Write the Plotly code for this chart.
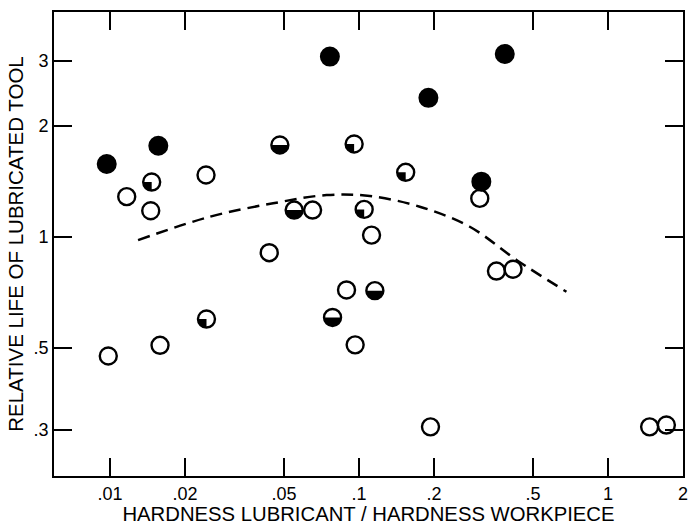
import plotly.graph_objects as go

# ---- data ----
x_ticks = [0.01, 0.02, 0.05, 0.1, 0.2, 0.5, 1, 2]
x_tick_text = [".01", ".02", ".05", ".1", ".2", ".5", "1", "2"]
y_ticks = [0.3, 0.5, 1, 2, 3]
y_tick_text = [".3", ".5", "1", "2", "3"]

filled_x = [0.0764, 0.385, 0.190, 0.01563, 0.00970, 0.310]
filled_y = [3.08, 3.13, 2.38, 1.765, 1.575, 1.41]

half_x = [0.0481, 0.0549, 0.0783, 0.1158]
half_y = [1.773, 1.181, 0.604, 0.714]

quarter_x = [0.0956, 0.01470, 0.1049, 0.0244, 0.154]
quarter_y = [1.784, 1.407, 1.186, 0.598, 1.495]

open_x = [0.0243, 0.01167, 0.01457, 0.0651, 0.1123, 0.0436, 0.00984, 0.01588,
          0.0891, 0.0965, 0.3055, 0.3565, 0.4156, 0.1937, 1.470, 1.716]
open_y = [1.47, 1.284, 1.176, 1.181, 1.01, 0.905, 0.4747, 0.5075,
          0.717, 0.509, 1.27, 0.807, 0.816, 0.305, 0.305, 0.3085]

curve_x = [0.01296, 0.0252, 0.0452, 0.0741, 0.1105, 0.1754, 0.2786, 0.4289, 0.681]
curve_y = [0.979, 1.133, 1.232, 1.297, 1.289, 1.206, 1.064, 0.865, 0.709]

FONT = "Liberation Sans"
R = 8.5
K = 0.5523 * R

fig = go.Figure()
fig.add_trace(go.Scatter(x=curve_x, y=curve_y, mode="lines",
                         line=dict(color="black", width=2.5, dash="12px,7px", shape="spline"),
                         showlegend=False, hoverinfo="skip"))

marker_open = dict(symbol="circle-open", size=17, color="black", line=dict(width=2.4, color="black"))
for xs, ys in [(open_x, open_y), (half_x, half_y), (quarter_x, quarter_y)]:
    fig.add_trace(go.Scatter(x=xs, y=ys, mode="markers", marker=marker_open, showlegend=False))

fig.add_trace(go.Scatter(x=filled_x, y=filled_y, mode="markers",
                         marker=dict(symbol="circle", size=18, color="black",
                                     line=dict(width=2, color="black")),
                         showlegend=False))

half_path = f"M {-R},0 C {-R},{-K} {-K},{-R} 0,{-R} C {K},{-R} {R},{-K} {R},0 Z"
quarter_path = f"M 0,0 L {-R},0 C {-R},{-K} {-K},{-R} 0,{-R} Z"

shapes = []
for xv, yv in zip(half_x, half_y):
    shapes.append(dict(type="path", xref="x", yref="y", xsizemode="pixel", ysizemode="pixel",
                       xanchor=xv, yanchor=yv, path=half_path, fillcolor="black",
                       line=dict(width=0), layer="above"))
for xv, yv in zip(quarter_x, quarter_y):
    shapes.append(dict(type="path", xref="x", yref="y", xsizemode="pixel", ysizemode="pixel",
                       xanchor=xv, yanchor=yv, path=quarter_path, fillcolor="black",
                       line=dict(width=0), layer="above"))

axis_common = dict(showline=True, linecolor="black", linewidth=2, mirror="ticks",
                   ticks="inside", ticklen=18, tickwidth=2, tickcolor="black",
                   showgrid=False, zeroline=False,
                   tickfont=dict(family=FONT, size=18, color="black"))

fig.update_layout(
    width=688, height=525,
    margin=dict(l=54, r=5, t=12, b=49, autoexpand=False),
    paper_bgcolor="white", plot_bgcolor="white",
    shapes=shapes,
    xaxis=dict(type="log", range=[-2.225, 0.3013], tickvals=x_ticks, ticktext=x_tick_text,
               title=dict(text="HARDNESS LUBRICANT / HARDNESS WORKPIECE",
                          font=dict(family=FONT, size=20.3, color="black"), standoff=0),
               **axis_common),
    yaxis=dict(type="log", range=[-0.649, 0.6094], tickvals=y_ticks, ticktext=y_tick_text,
               title=dict(text="RELATIVE LIFE OF LUBRICATED TOOL",
                          font=dict(family=FONT, size=20.5, color="black"), standoff=4),
               **axis_common),
)

fig.write_html("out.html")
